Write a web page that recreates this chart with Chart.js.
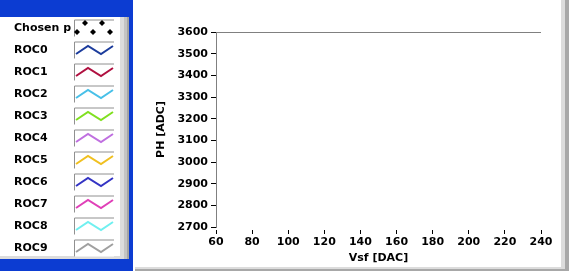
<!DOCTYPE html>
<html>
<head>
<meta charset="utf-8">
<script src="https://cdn.jsdelivr.net/npm/chart.js@4/dist/chart.umd.min.js"></script>
<style>
  html, body { margin: 0; padding: 0; background: #fff; }
  #wrap { width: 569px; height: 271px; position: relative; }
</style>
</head>
<body>
<div id="wrap"><canvas id="myChart" width="569" height="271"></canvas></div>
<script>
// series shown in the legend (the plot itself holds no samples)
const seriesLabels = ['Chosen p', 'ROC0', 'ROC1', 'ROC2', 'ROC3', 'ROC4', 'ROC5', 'ROC6', 'ROC7', 'ROC8', 'ROC9'];
const seriesColors = ['#000000', '#1c3c9c', '#b01040', '#48c0e8', '#80e020', '#c070e0', '#f0c020', '#3434c4', '#e040b8', '#70f0f0', '#a0a0a0'];
const seriesValues = [[], [], [], [], [], [], [], [], [], [], []];

const xTicks = [60, 80, 100, 120, 140, 160, 180, 200, 220, 240];
const yTicks = [2700, 2800, 2900, 3000, 3100, 3200, 3300, 3400, 3500, 3600];

const FONT = 'DejaVu Sans';

// window frame + panel behind the plot
const framePlugin = {
    id: 'frame',
    beforeDraw: (chart) => {
        const ctx = chart.ctx;
        ctx.save();
        ctx.fillStyle = '#ffffff';
        ctx.fillRect(0, 0, 569, 271);
        ctx.fillStyle = '#0c3cd2';
        ctx.fillRect(0, 0, 133, 271);
        // legend panel
        ctx.fillStyle = '#ffffff';
        ctx.fillRect(0, 17, 120, 239);
        ctx.fillStyle = '#dcdcdc';
        ctx.fillRect(120, 17, 4, 242);
        ctx.fillRect(0, 256, 124, 3);
        ctx.fillStyle = '#c4c4c4';
        ctx.fillRect(124, 17, 3, 242);
        ctx.fillStyle = '#a4a4a4';
        ctx.fillRect(127, 17, 2, 242);
        // right/bottom border of the graph
        ctx.fillStyle = '#dcdcdc';
        ctx.fillRect(561, 0, 4, 271);
        ctx.fillRect(135, 267, 430, 2);
        ctx.fillStyle = '#a8a8a8';
        ctx.fillRect(565, 0, 4, 271);
        ctx.fillRect(135, 269, 434, 2);
        ctx.restore();
    }
};

// LabVIEW style plot legend, read from the datasets
const legendPlugin = {
    id: 'plotLegend',
    afterDraw: (chart) => {
        const ctx = chart.ctx;
        ctx.save();
        chart.data.datasets.forEach((ds, i) => {
            const cy = 27.5 + i * 22;
            ctx.fillStyle = '#000';
            ctx.font = 'bold 11px "' + FONT + '"';
            ctx.textBaseline = 'middle';
            ctx.fillText(ds.label, 14, cy + 0.5);
            // swatch box
            ctx.fillStyle = '#fff';
            ctx.fillRect(74, cy - 8, 40, 17);
            ctx.strokeStyle = '#909090';
            ctx.lineWidth = 1;
            ctx.beginPath();
            ctx.moveTo(74.5, cy + 9);
            ctx.lineTo(74.5, cy - 7.5);
            ctx.lineTo(114, cy - 7.5);
            ctx.stroke();
            if (ds.showLine === false) {
                ctx.fillStyle = ds.backgroundColor;
                [[77, 4.5], [85, -4.5], [93, 4.5], [102, -4.5], [110, 4.5]].forEach(p => {
                    ctx.beginPath();
                    ctx.moveTo(p[0], cy + p[1] - 3);
                    ctx.lineTo(p[0] + 3, cy + p[1]);
                    ctx.lineTo(p[0], cy + p[1] + 3);
                    ctx.lineTo(p[0] - 3, cy + p[1]);
                    ctx.closePath();
                    ctx.fill();
                });
            } else {
                ctx.strokeStyle = ds.borderColor;
                ctx.lineWidth = 2;
                ctx.beginPath();
                ctx.moveTo(76, cy + 4.5);
                ctx.lineTo(88, cy - 3.5);
                ctx.lineTo(101, cy + 4.5);
                ctx.lineTo(113, cy - 3.5);
                ctx.stroke();
            }
        });
        ctx.restore();
    }
};

const datasets = seriesLabels.map((label, i) => ({
    label: label,
    data: seriesValues[i].map((v, j) => ({ x: v[0], y: v[1] })),
    borderColor: seriesColors[i],
    backgroundColor: seriesColors[i],
    showLine: i !== 0,
    pointStyle: i === 0 ? 'rectRot' : false,
    pointRadius: i === 0 ? 3 : 0,
    borderWidth: 2
}));

const ctx = document.getElementById('myChart').getContext('2d');
const myChart = new Chart(ctx, {
    type: 'scatter',
    data: { datasets: datasets },
    options: {
        responsive: false,
        animation: false,
        layout: { padding: { left: 134, top: 32, right: 28, bottom: 0 } },
        plugins: { legend: { display: false }, tooltip: { enabled: false } },
        scales: {
            x: {
                type: 'linear',
                min: xTicks[0],
                max: xTicks[xTicks.length - 1],
                afterBuildTicks: (s) => { s.ticks = xTicks.map(v => ({ value: v })); },
                afterFit: (s) => { s.height = 44; },
                border: { display: false },
                grid: {
                    drawOnChartArea: false,
                    tickLength: 7,
                    tickColor: '#000',
                    tickBorderDash: [0, 3, 4, 20]
                },
                ticks: {
                    color: '#000', padding: 2,
                    callback: (v) => String(v),
                    font: { family: FONT, size: 11, weight: 'bold' }
                },
                title: {
                    display: true, text: 'Vsf [DAC]', color: '#000',
                    padding: { top: 0, bottom: 6 },
                    font: { family: FONT, size: 11, weight: 'bold' }
                }
            },
            y: {
                type: 'linear',
                min: yTicks[0],
                max: yTicks[yTicks.length - 1],
                afterBuildTicks: (s) => { s.ticks = yTicks.map(v => ({ value: v })); },
                afterFit: (s) => { s.width = 82; },
                border: { display: true, color: '#808080', width: 1 },
                grid: {
                    color: (c) => c.tick && c.tick.value === 3600 ? '#808080' : 'rgba(0,0,0,0)',
                    tickColor: '#000',
                    tickLength: 5
                },
                ticks: {
                    color: '#000', padding: 3,
                    callback: (v) => String(v),
                    font: { family: FONT, size: 11, weight: 'bold' }
                },
                title: {
                    display: true, text: 'PH [ADC]', color: '#000',
                    padding: { top: 21, bottom: 0 },
                    font: { family: FONT, size: 11, weight: 'bold' }
                }
            }
        }
    },
    plugins: [framePlugin, legendPlugin]
});
</script>
</body>
</html>
